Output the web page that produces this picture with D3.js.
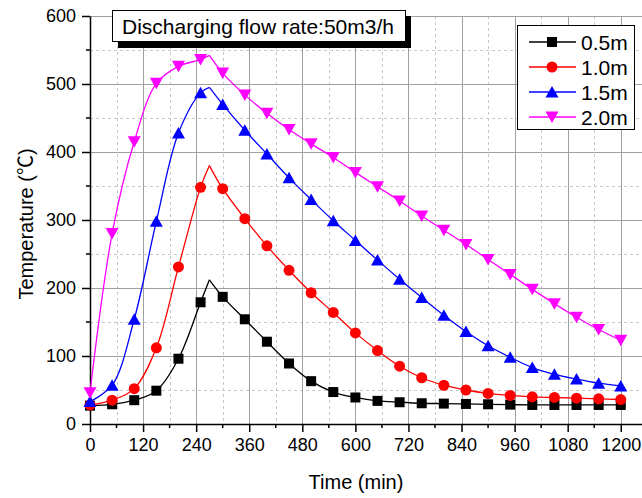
<!DOCTYPE html>
<html>
<head>
<meta charset="utf-8">
<script src="https://cdn.jsdelivr.net/npm/d3@7"></script>
<style>
  body { margin: 0; background: #fff; }
  text { font-family: "Liberation Sans", Arial, sans-serif; fill: #000; }
</style>
</head>
<body>
<script>
var w = 642, h = 498;

// sample times (min) where markers sit
var times = [0, 50, 100, 150, 200, 250, 300, 350, 400, 450, 500, 550, 600,
             650, 700, 750, 800, 850, 900, 950, 1000, 1050, 1100, 1150, 1200];

var t05 = [27, 29, 35, 49, 96, 179, 187, 154, 121, 89, 63, 47, 39,
           34, 32, 30.5, 30, 29.5, 29, 28.5, 28, 28, 28, 28, 28];
var t10 = [28, 35, 52, 112, 231, 348, 346, 302, 262, 226, 193, 164, 134,
           108, 85, 68, 57, 50, 45, 42, 40, 39, 38, 37, 36];
var t15 = [33, 57, 154, 298, 428, 487, 470, 432, 397, 362, 330, 299, 270,
           241, 213, 186, 160, 136, 115, 98, 83, 73, 66, 60, 56];
var t20 = [46, 280, 415, 501, 526, 536, 516, 484, 457, 433, 412, 392, 370,
           349, 328, 306, 285, 264, 242, 220, 198, 177, 157, 139, 123];

// unmarked peak of each curve
var peakTime = 270;
var peaks = [212, 380, 495, 542];

var names = ["0.5m", "1.0m", "1.5m", "2.0m"];
var colors = ["#000000", "#ff0000", "#0000ff", "#ff00ff"];
var shapes = ["square", "circle", "triangle", "down"];

var xTicks = [0, 120, 240, 360, 480, 600, 720, 840, 960, 1080, 1200];
var yTicks = [0, 100, 200, 300, 400, 500, 600];

var series = [t05, t10, t15, t20].map(function(vals, i) {
  return {
    name: names[i], color: colors[i], shape: shapes[i],
    points: vals.map(function(v, j) { return {t: times[j], v: v}; }),
    peak: peaks[i]
  };
});

var svg = d3.select("body").append("svg").attr("width", w).attr("height", h);

var x = d3.scaleLinear().domain([0, 1248]).range([90, 642]);
var y = d3.scaleLinear().domain([0, 600]).range([424, 16]);

// grid
var grid = svg.append("g");
var minorX = d3.range(60, 1248, 120);
var minorY = d3.range(50, 600, 100);
grid.selectAll(".mx").data(minorX).enter().append("line")
  .attr("x1", function(d){return Math.round(x(d))+0.5}).attr("x2", function(d){return Math.round(x(d))+0.5})
  .attr("y1", y(600)).attr("y2", y(0))
  .attr("stroke", "#c8c8c8").attr("stroke-dasharray", "3,3");
grid.selectAll(".my").data(minorY).enter().append("line")
  .attr("y1", function(d){return Math.round(y(d))+0.5}).attr("y2", function(d){return Math.round(y(d))+0.5})
  .attr("x1", x(0)).attr("x2", w)
  .attr("stroke", "#c8c8c8").attr("stroke-dasharray", "3,3");
grid.selectAll(".gx").data(xTicks.slice(1)).enter().append("line")
  .attr("x1", function(d){return Math.round(x(d))+0.5}).attr("x2", function(d){return Math.round(x(d))+0.5})
  .attr("y1", y(600)).attr("y2", y(0))
  .attr("stroke", "#a0a0a0");
grid.selectAll(".gy").data(yTicks.slice(1)).enter().append("line")
  .attr("y1", function(d){return Math.round(y(d))+0.5}).attr("y2", function(d){return Math.round(y(d))+0.5})
  .attr("x1", x(0)).attr("x2", w)
  .attr("stroke", "#a0a0a0");

// axes
var xAxis = d3.axisBottom(x).tickValues(xTicks).tickFormat(d3.format("d"))
  .tickSize(8).tickPadding(6).tickSizeOuter(0);
var gx = svg.append("g").attr("transform", "translate(0,424)").call(xAxis);
gx.select(".domain").attr("stroke-width", 1.5);
gx.selectAll("text").attr("font-size", 18).attr("font-family", "Liberation Sans, Arial, sans-serif");
gx.selectAll(".tick line").attr("stroke-width", 1.5);
gx.selectAll(".minor").data(minorX).enter().append("line").attr("class", "minor")
  .attr("x1", function(d){return x(d)}).attr("x2", function(d){return x(d)})
  .attr("y1", 0).attr("y2", 4).attr("stroke", "#000").attr("stroke-width", 1.5);

var yAxis = d3.axisLeft(y).tickValues(yTicks).tickSize(8).tickPadding(6).tickSizeOuter(0);
var gy = svg.append("g").attr("transform", "translate(90,0)").call(yAxis);
gy.select(".domain").attr("stroke-width", 1.5);
gy.selectAll("text").attr("font-size", 18).attr("font-family", "Liberation Sans, Arial, sans-serif");
gy.selectAll(".tick line").attr("stroke-width", 1.5);
gy.selectAll(".minor").data(minorY).enter().append("line").attr("class", "minor")
  .attr("y1", function(d){return y(d)}).attr("y2", function(d){return y(d)})
  .attr("x1", 0).attr("x2", -4).attr("stroke", "#000").attr("stroke-width", 1.5);

svg.append("text").attr("x", 356).attr("y", 489).attr("text-anchor", "middle")
  .attr("font-size", 20).text("Time (min)");
var yt = svg.append("text").attr("transform", "translate(33,224) rotate(-90)").attr("text-anchor", "middle")
  .attr("font-size", 20);
yt.append("tspan").text("Temperature (");
yt.append("tspan").attr("font-family", "Noto Sans CJK SC, sans-serif").text("℃");
yt.append("tspan").text(")");

// lines: rising part and falling part meet at the sharp peak
var line = d3.line().x(function(d){return x(d.t)}).y(function(d){return y(d.v)})
  .curve(d3.curveCatmullRom.alpha(0.5));

function marker(sel, shape, color) {
  if (shape === "circle") {
    sel.append("circle").attr("r", 5.5).attr("fill", color);
  } else if (shape === "square") {
    sel.append("rect").attr("x", -5).attr("y", -5).attr("width", 10).attr("height", 10).attr("fill", color);
  } else if (shape === "triangle") {
    sel.append("path").attr("d", "M0,-6L6.5,5.5L-6.5,5.5Z").attr("fill", color);
  } else {
    sel.append("path").attr("d", "M0,6L6.5,-5.5L-6.5,-5.5Z").attr("fill", color);
  }
}

series.forEach(function(s) {
  var pk = {t: peakTime, v: s.peak};
  var rise = s.points.filter(function(p){return p.t < peakTime}).concat([pk]);
  var fall = [pk].concat(s.points.filter(function(p){return p.t > peakTime}));
  var g = svg.append("g");
  [rise, fall].forEach(function(part) {
    g.append("path").attr("d", line(part)).attr("fill", "none")
      .attr("stroke", s.color).attr("stroke-width", 1.3);
  });
  g.selectAll(".m").data(s.points).enter().append("g")
    .attr("transform", function(d){return "translate(" + x(d.t) + "," + y(d.v) + ")"})
    .each(function() { marker(d3.select(this), s.shape, s.color); });
});

// title box with drop shadow
svg.append("rect").attr("x", 118).attr("y", 16).attr("width", 293).attr("height", 32).attr("fill", "#000");
svg.append("rect").attr("x", 112.5).attr("y", 10.5).attr("width", 293).attr("height", 31)
  .attr("fill", "#fff").attr("stroke", "#000");
svg.append("text").attr("x", 258).attr("y", 33.5).attr("text-anchor", "middle")
  .attr("font-size", 21).text("Discharging flow rate:50m3/h");

// legend
var lg = svg.append("g");
lg.append("rect").attr("x", 517.5).attr("y", 25.5).attr("width", 117).attr("height", 104)
  .attr("fill", "#fff").attr("stroke", "#000");
series.forEach(function(s, i) {
  var yy = 42 + i * 25;
  lg.append("line").attr("x1", 529).attr("x2", 576).attr("y1", yy).attr("y2", yy)
    .attr("stroke", s.color).attr("stroke-width", 1.3);
  var m = lg.append("g").attr("transform", "translate(552," + yy + ")");
  marker(m, s.shape, s.color);
  lg.append("text").attr("x", 581).attr("y", yy + 7.5).attr("font-size", 21).text(s.name);
});
</script>
</body>
</html>
